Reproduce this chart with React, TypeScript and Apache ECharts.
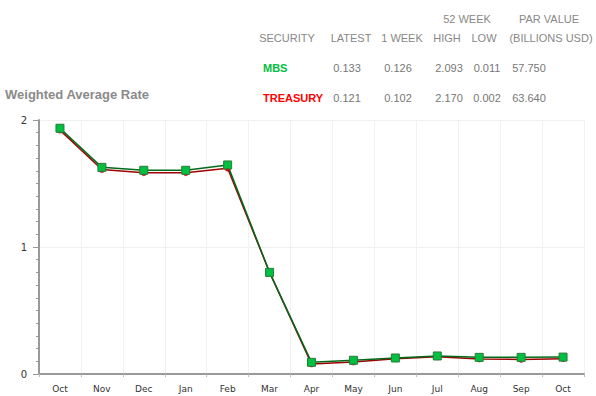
import React, { useEffect, useRef } from "react";
import * as echarts from "echarts";

const months = ["Oct", "Nov", "Dec", "Jan", "Feb", "Mar", "Apr", "May", "Jun", "Jul", "Aug", "Sep", "Oct"];
const mbsValues = [1.935, 1.627, 1.604, 1.604, 1.646, 0.8, 0.092, 0.108, 0.126, 0.142, 0.131, 0.131, 0.133];
const treasuryValues = [1.92, 1.61, 1.585, 1.585, 1.62, 0.8, 0.079, 0.094, 0.12, 0.135, 0.118, 0.115, 0.121];

const tableHeaders = ["SECURITY", "LATEST", "1 WEEK", "HIGH", "LOW", "(BILLIONS USD)"];
const mbsRow = ["MBS", "0.133", "0.126", "2.093", "0.011", "57.750"];
const treasuryRow = ["TREASURY", "0.121", "0.102", "2.170", "0.002", "63.640"];

const headerX = [287, 351, 402, 447, 484, 551];
const valueX = [347, 398, 449, 487, 529];

export default function App() {
  const ref = useRef<HTMLDivElement>(null);
  useEffect(() => {
    const chart = echarts.init(ref.current!, null, { renderer: "svg" });
    const grey = "#888888";
    const txtFont = "Liberation Sans, Arial, sans-serif";
    const graphics: any[] = [];
    graphics.push({ type: "text", x: 467, y: 19, style: { text: "52 WEEK", fill: grey, font: `11px ${txtFont}`, align: "center", verticalAlign: "middle" } });
    graphics.push({ type: "text", x: 549, y: 19, style: { text: "PAR VALUE", fill: grey, font: `11px ${txtFont}`, align: "center", verticalAlign: "middle" } });
    tableHeaders.forEach((h, i) => {
      graphics.push({ type: "text", x: headerX[i], y: 38, style: { text: h, fill: grey, font: `11px ${txtFont}`, align: "center", verticalAlign: "middle" } });
    });
    const rows: [string[], string, number][] = [[mbsRow, "#00c040", 68], [treasuryRow, "#ff0000", 98]];
    rows.forEach(([row, col, y]) => {
      graphics.push({ type: "text", x: 263, y, style: { text: row[0], fill: col, font: `bold 11px ${txtFont}`, align: "left", verticalAlign: "middle" } });
      row.slice(1).forEach((v, i) => {
        graphics.push({ type: "text", x: valueX[i], y, style: { text: v, fill: "#777777", font: `11px ${txtFont}`, align: "center", verticalAlign: "middle" } });
      });
    });
    graphics.push({ type: "text", x: 5, y: 94, style: { text: "Weighted Average Rate", fill: "#8a8a8a", font: `bold 13px ${txtFont}`, align: "left", verticalAlign: "middle" } });

    chart.setOption({
      animation: false,
      grid: { left: 39, right: 12, top: 120, bottom: 22 },
      graphic: graphics,
      xAxis: [
        {
          type: "category",
          data: months,
          boundaryGap: true,
          axisLine: { lineStyle: { color: "#999999", width: 2 } },
          axisTick: { alignWithLabel: true, length: 5, lineStyle: { color: "#999999" } },
          axisLabel: { color: "#333333", fontSize: 9, fontFamily: "DejaVu Sans", margin: 10 },
          splitLine: { show: true, lineStyle: { color: "#f2f2f2" } },
        },
        {
          type: "category",
          data: months,
          position: "bottom",
          boundaryGap: true,
          axisLine: { show: false },
          axisTick: { show: true, length: 3, lineStyle: { color: "#bbbbbb" } },
          axisLabel: { show: false },
          splitLine: { show: false },
        },
      ],
      yAxis: {
        type: "value",
        min: 0,
        max: 2,
        interval: 1,
        axisLine: { show: true, lineStyle: { color: "#999999", width: 2 } },
        axisTick: { show: true, length: 6, lineStyle: { color: "#999999" } },
        minorTick: { show: true, splitNumber: 10, length: 3, lineStyle: { color: "#999999" } },
        axisLabel: { color: "#333333", fontSize: 10, fontFamily: "DejaVu Sans", margin: 12 },
        splitLine: { show: true, lineStyle: { color: "#f0f0f0" } },
      },
      series: [
        {
          name: "TREASURY",
          type: "line",
          data: treasuryValues,
          symbol: "circle",
          symbolSize: 6,
          lineStyle: { color: "#a00000", width: 1.5 },
          itemStyle: { color: "#e00000", borderColor: "#a00000", borderWidth: 0.5 },
        },
        {
          name: "MBS",
          type: "line",
          data: mbsValues,
          symbol: "rect",
          symbolSize: 8,
          lineStyle: { color: "#006a1a", width: 1.5 },
          itemStyle: { color: "#00c040", borderColor: "#2a7a3a", borderWidth: 1 },
        },
      ],
    });
    return () => chart.dispose();
  }, []);
  return <div ref={ref} style={{ width: 596, height: 396, position: "absolute", left: 0, top: 0 }} />;
}
